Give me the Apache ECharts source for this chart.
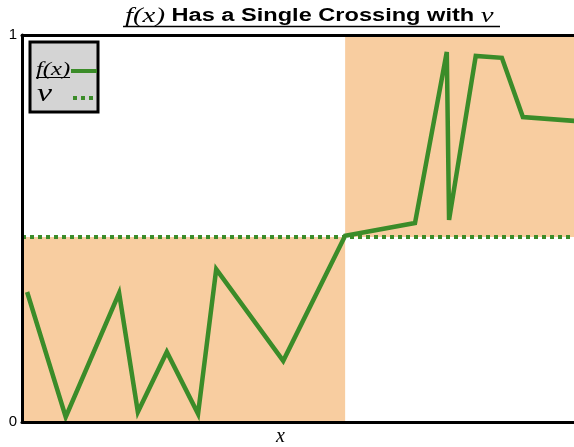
<!DOCTYPE html>
<html><head><meta charset="utf-8">
<script src="https://cdn.jsdelivr.net/npm/echarts@6/dist/echarts.min.js"></script>
<style>html,body{margin:0;padding:0;background:#fff}#c{width:574px;height:447px}</style>
</head><body><div id="c"></div>
<script>
const xValues = [0.009, 0.077, 0.171, 0.204, 0.255, 0.310, 0.342, 0.460, 0.569, 0.692, 0.748, 0.752, 0.799, 0.845, 0.882, 1.0];
const fValues = [0.336, 0.013, 0.333, 0.026, 0.181, 0.021, 0.395, 0.158, 0.481, 0.514, 0.956, 0.522, 0.946, 0.941, 0.788, 0.775];
const vValue = 0.478;
const crossingX = 0.569;
const xVisibleMax = 0.972;
const yTicks = [0, 1];

const green = '#3b8c29';
const shade = '#f8cda0';
const axisLine = {show: true, lineStyle: {color: '#000', width: 3}};
const chart = echarts.init(document.getElementById('c'), null, {renderer: 'canvas'});
chart.setOption({
  animation: false,
  grid: {left: 22, right: 0, top: 35, bottom: 25, show: false, containLabel: false},
  xAxis: [
    {type: 'value', min: 0, max: xVisibleMax, position: 'bottom', z: 10,
      axisLine: axisLine, axisTick: {show: false}, axisLabel: {show: false}, splitLine: {show: false}},
    {type: 'value', min: 0, max: xVisibleMax, position: 'top', z: 10,
      axisLine: axisLine, axisTick: {show: false}, axisLabel: {show: false}, splitLine: {show: false}}
  ],
  yAxis: {
    type: 'value', min: yTicks[0], max: yTicks[1], interval: 1, z: 10,
    axisLine: axisLine, axisTick: {show: false}, splitLine: {show: false},
    axisLabel: {margin: 5, fontFamily: 'Liberation Sans', fontSize: 15, color: '#000',
      formatter: v => yTicks.includes(v) ? String(v) : ''}
  },
  series: [
    {
      type: 'line', data: [], silent: true,
      markArea: {
        silent: true,
        itemStyle: {color: shade, opacity: 1},
        data: [
          [{xAxis: 0, yAxis: 0}, {xAxis: crossingX, yAxis: vValue}],
          [{xAxis: crossingX, yAxis: vValue}, {xAxis: xVisibleMax, yAxis: 1}]
        ]
      }
    },
    {
      type: 'line', name: 'v', symbol: 'none', z: 3,
      data: [[0, vValue], [xVisibleMax, vValue]],
      lineStyle: {color: green, width: 4, type: [4, 4]}
    },
    {
      type: 'line', name: 'f(x)', symbol: 'none', z: 4, clip: true,
      data: xValues.map((x, i) => [x, fValues[i]]),
      lineStyle: {color: green, width: 4.5, join: 'miter'}
    }
  ],
  graphic: [
    {type: 'text', x: 125, y: 5, scaleX: 1.31,
      style: {
        text: '{f|f(x)}{b| Has a Single Crossing with }{v|v}',
        rich: {
          f: {fontFamily: 'Liberation Serif', fontStyle: 'italic', fontSize: 22, fill: '#000', color: '#000'},
          b: {fontFamily: 'Liberation Sans', fontWeight: 'bold', fontSize: 18, fill: '#000', color: '#000'},
          v: {fontFamily: 'Liberation Serif', fontStyle: 'italic', fontSize: 22, fill: '#000', color: '#000'}
        }
      }},
    {type: 'line', shape: {x1: 123, y1: 26.5, x2: 500, y2: 26.5}, style: {stroke: '#000', lineWidth: 1.5}},
    {type: 'text', x: 276, y: 427, style: {text: 'x', font: 'italic 20px "Liberation Serif"', fill: '#000'}},
    {type: 'rect', shape: {x: 30, y: 42, width: 68, height: 70}, style: {fill: '#d4d4d4', stroke: '#000', lineWidth: 3}, z: 10},
    {type: 'text', x: 36, y: 60.5, scaleX: 1.3, style: {text: 'f(x)', font: 'italic 19px "Liberation Serif"', fill: '#000'}, z: 11},
    {type: 'line', shape: {x1: 36, y1: 77.5, x2: 70, y2: 77.5}, style: {stroke: '#000', lineWidth: 1}, z: 11},
    {type: 'line', shape: {x1: 71, y1: 71, x2: 97, y2: 71}, style: {stroke: green, lineWidth: 4}, z: 11},
    {type: 'text', x: 37, y: 81, scaleX: 1.3, style: {text: 'v', font: 'italic 26px "Liberation Serif"', fill: '#000'}, z: 11},
    {type: 'line', shape: {x1: 73, y1: 98, x2: 97, y2: 98}, style: {stroke: green, lineWidth: 4, lineDash: [4, 4]}, z: 11}
  ]
});
</script></body></html>
